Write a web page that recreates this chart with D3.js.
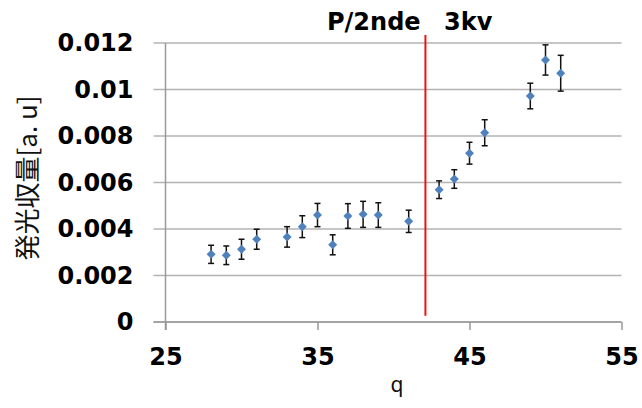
<!DOCTYPE html>
<html>
<head>
<meta charset="utf-8">
<script src="https://cdn.jsdelivr.net/npm/d3@7"></script>
<style>
  body { margin: 0; background: #fff; }
  svg { display: block; }
</style>
</head>
<body>
<div id="chart"></div>
<script>
let width = 642
let height = 408
let margin = { left: 165.5, right: 20.5, top: 43, bottom: 86 }

//data
let qValues = [28, 29, 30, 31, 33, 34, 35, 36, 37, 38, 39, 41, 43, 44, 45, 46, 49, 50, 51]
let yieldValues = [0.00291, 0.00287, 0.00313, 0.00356, 0.00366, 0.0041, 0.0046, 0.00332, 0.00456, 0.00463, 0.0046, 0.00433,
  0.00569, 0.00615, 0.00726, 0.00814, 0.00972, 0.01127, 0.0107]
let errValues = [0.00039, 0.0004, 0.00043, 0.00043, 0.00044, 0.00047, 0.0005, 0.00043, 0.00053, 0.00056, 0.00053, 0.00048,
  0.00038, 0.0004, 0.00047, 0.00056, 0.00055, 0.00065, 0.00077]
let xTicks = [25, 35, 45, 55]
let yTicks = [0, 0.002, 0.004, 0.006, 0.008, 0.01, 0.012]
let markerQ = 42.1
let markerRange = [0.00027, 0.01234]
let titleParts = ["P/2nde", "3kv"]

let data = qValues.map((q, i) => ({ q: q, y: yieldValues[i], e: errValues[i] }))

let svg = d3.select("#chart").append("svg")
  .attr("width", width)
  .attr("height", height)

let xScale = d3.scaleLinear([25, 55], [margin.left, width - margin.right])
let yScale = d3.scaleLinear([0, 0.012], [height - margin.bottom, margin.top])

//gridlines
svg.append("g")
  .selectAll("line")
  .data(yTicks)
  .enter()
  .append("line")
  .attr("x1", margin.left - 12)
  .attr("x2", width - margin.right)
  .attr("y1", d => yScale(d))
  .attr("y2", d => yScale(d))
  .attr("stroke", "#b3b3b3")
  .attr("stroke-width", 1.5)

//y axis
let yAxis = d3.axisLeft(yScale)
  .tickValues(yTicks)
  .tickSize(0)
  .tickPadding(32)
  .tickFormat(d => d === 0 ? "0" : String(+d.toFixed(3)))

svg.append("g")
  .attr("transform", "translate(" + margin.left + ",0)")
  .call(yAxis)
  .call(g => g.select(".domain").remove())
  .call(g => g.selectAll("text")
    .attr("font-family", "DejaVu Sans")
    .attr("font-weight", "bold")
    .attr("font-size", 24)
    .attr("fill", "#000"))

svg.append("line")
  .attr("x1", margin.left).attr("x2", margin.left)
  .attr("y1", margin.top).attr("y2", height - margin.bottom + 8)
  .attr("stroke", "#999").attr("stroke-width", 1.5)

//x axis
let xAxis = d3.axisBottom(xScale)
  .tickValues(xTicks)
  .tickSize(8)
  .tickPadding(18)

svg.append("g")
  .attr("transform", "translate(0," + (height - margin.bottom) + ")")
  .call(xAxis)
  .call(g => g.select(".domain").remove())
  .call(g => g.selectAll("line").attr("stroke", "#999").attr("stroke-width", 1.5))
  .call(g => g.selectAll("text")
    .attr("font-family", "DejaVu Sans")
    .attr("font-weight", "bold")
    .attr("font-size", 24)
    .attr("fill", "#000"))

svg.append("line")
  .attr("x1", margin.left - 12).attr("x2", width - margin.right)
  .attr("y1", yScale(0)).attr("y2", yScale(0))
  .attr("stroke", "#999").attr("stroke-width", 1.5)

//red marker line
svg.append("line")
  .attr("x1", xScale(markerQ)).attr("x2", xScale(markerQ))
  .attr("y1", yScale(markerRange[0])).attr("y2", yScale(markerRange[1]))
  .attr("stroke", "#ee1111").attr("stroke-width", 2)

//error bars
let errGroups = svg.selectAll(".err")
  .data(data)
  .enter()
  .append("g")
  .attr("class", "err")
  .attr("stroke", "#111")
  .attr("stroke-width", 1.5)

errGroups.append("line")
  .attr("x1", d => xScale(d.q)).attr("x2", d => xScale(d.q))
  .attr("y1", d => yScale(d.y - d.e)).attr("y2", d => yScale(d.y + d.e))
errGroups.append("line")
  .attr("x1", d => xScale(d.q) - 3).attr("x2", d => xScale(d.q) + 3)
  .attr("y1", d => yScale(d.y - d.e)).attr("y2", d => yScale(d.y - d.e))
errGroups.append("line")
  .attr("x1", d => xScale(d.q) - 3).attr("x2", d => xScale(d.q) + 3)
  .attr("y1", d => yScale(d.y + d.e)).attr("y2", d => yScale(d.y + d.e))

//diamond markers
svg.selectAll(".pt")
  .data(data)
  .enter()
  .append("path")
  .attr("class", "pt")
  .attr("transform", d => "translate(" + xScale(d.q) + "," + yScale(d.y) + ")")
  .attr("d", "M0,-4.5L4.5,0L0,4.5L-4.5,0Z")
  .attr("fill", "#4f81bd")

//title, the red line runs through the gap between its two words
let titleText = svg.append("text")
  .attr("y", 30)
  .attr("font-family", "DejaVu Sans")
  .attr("font-weight", "bold")
  .attr("font-size", 24)
  .attr("fill", "#000")
titleText.append("tspan").attr("x", 327).text(titleParts[0])
titleText.append("tspan").attr("x", 444).text(titleParts[1])

//axis titles
svg.append("text")
  .attr("x", 397)
  .attr("y", 392)
  .attr("text-anchor", "middle")
  .attr("font-family", "Noto Sans")
  .attr("font-size", 21)
  .attr("fill", "#111")
  .text("q")

svg.append("text")
  .attr("transform", "translate(37,178) rotate(-90)")
  .attr("text-anchor", "middle")
  .attr("font-family", "Noto Sans CJK JP")
  .attr("font-size", 26)
  .attr("fill", "#111")
  .text("発光収量[a. u]")
</script>
</body>
</html>
